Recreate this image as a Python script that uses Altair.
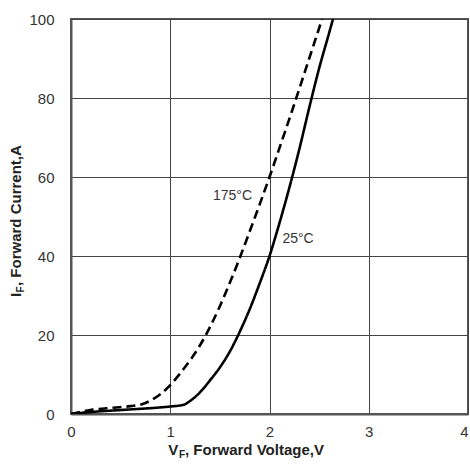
import altair as alt
import pandas as pd

# 25 °C curve (solid)
v_25 = [0.0, 0.2, 0.56, 1.0, 1.13, 1.2, 1.3, 1.4, 1.5, 1.6, 1.7, 1.8, 1.9, 2.0, 2.1, 2.2, 2.3, 2.4, 2.5, 2.6, 2.64]
i_25 = [0.0, 0.5, 1.1, 1.9, 2.3, 3.3, 5.5, 8.5, 11.8, 15.8, 20.8, 26.5, 33.0, 40.0, 48.3, 57.3, 67.0, 77.5, 87.5, 96.4, 100.0]

# 175 °C curve (dashed)
v_175 = [0.0, 0.22, 0.43, 0.6, 0.73, 0.8, 0.9, 1.0, 1.1, 1.2, 1.3, 1.4, 1.5, 1.6, 1.7, 1.8, 1.9, 2.0, 2.1, 2.2, 2.27, 2.4, 2.53]
i_175 = [0.0, 1.1, 1.6, 2.0, 2.6, 3.4, 5.0, 7.3, 10.3, 13.6, 17.4, 22.0, 27.3, 33.2, 39.5, 46.2, 53.0, 60.0, 67.3, 74.7, 80.0, 90.0, 100.0]

label_text = ["175°C", "25°C"]
label_v = [1.43, 2.13]
label_i = [54.1, 43.2]

x_ticks = [0, 1, 2, 3, 4]
y_ticks = [0, 20, 40, 60, 80, 100]

rows = []
for k, (v, i) in enumerate(zip(v_25, i_25)):
    rows.append({"series": "25", "v": v, "i": i, "k": k})
for k, (v, i) in enumerate(zip(v_175, i_175)):
    rows.append({"series": "175", "v": v, "i": i, "k": k})
df = pd.DataFrame(rows)
lab = pd.DataFrame({"t": label_text, "v": label_v, "i": label_i})

FONT = "Liberation Sans"
xs = alt.Scale(domain=[0, 4], nice=False)
ys = alt.Scale(domain=[0, 100], nice=False)

lines = alt.Chart(df).mark_line(color="black", strokeWidth=2.6, interpolate="monotone", clip=True).encode(
    x=alt.X("v:Q", scale=xs, axis=alt.Axis(
        values=x_ticks, title=None, labelPadding=10, format="d", labelFlush=False,
        labelAlign={"expr": "datum.value == 4 ? 'right' : 'center'"})),
    y=alt.Y("i:Q", scale=ys, axis=alt.Axis(values=y_ticks, title=None, labelPadding=17, format="d", labelFlush=False)),
    strokeDash=alt.StrokeDash("series:N", scale=alt.Scale(domain=["25", "175"], range=[[1, 0], [9, 5]]), legend=None),
    detail="series:N",
    order="k:Q",
)

labels = alt.Chart(lab).mark_text(align="left", baseline="alphabetic", font=FONT, fontSize=14, color="#333").encode(
    x=alt.X("v:Q", scale=xs), y=alt.Y("i:Q", scale=ys), text="t:N"
)

def txt(s, x, y, size, angle=0):
    kw = dict(align="left", baseline="alphabetic", font=FONT, fontSize=size, fontWeight="bold", color="#222")
    if angle:
        kw["angle"] = angle
    return alt.Chart(pd.DataFrame({"t": [s]})).mark_text(**kw).encode(
        x=alt.value(x), y=alt.value(y), text="t:N"
    )

# x title: V_F, Forward Voltage,V
xt = [
    txt("V", 97.3, 436, 15),
    txt("F", 108, 439, 10),
    txt(", Forward Voltage,V", 114, 436, 15),
]
# y title: I_F, Forward Current,A (rotated)
yt = [
    txt("I", -50.3, 278, 15, 270),
    txt("F", -47.3, 273.5, 10, 270),
    txt(", Forward Current,A", -50.3, 267, 15, 270),
]

chart = alt.layer(lines, labels, *xt, *yt).properties(
    width=397, height=395,
    background="white",
    autosize=alt.AutoSizeParams(type="none"),
    padding={"left": 71, "top": 19, "right": 2, "bottom": 50},
).configure_view(
    stroke="#555", strokeWidth=2
).configure_axis(
    domainColor="#555", domainWidth=2, ticks=False, tickSize=0,
    grid=True, gridColor="#444", gridWidth=1, gridOpacity=1,
    labelFont=FONT, labelFontSize=15, labelColor="#333",
)

chart.save("out.html", embed_options={"renderer": "svg", "actions": False})
